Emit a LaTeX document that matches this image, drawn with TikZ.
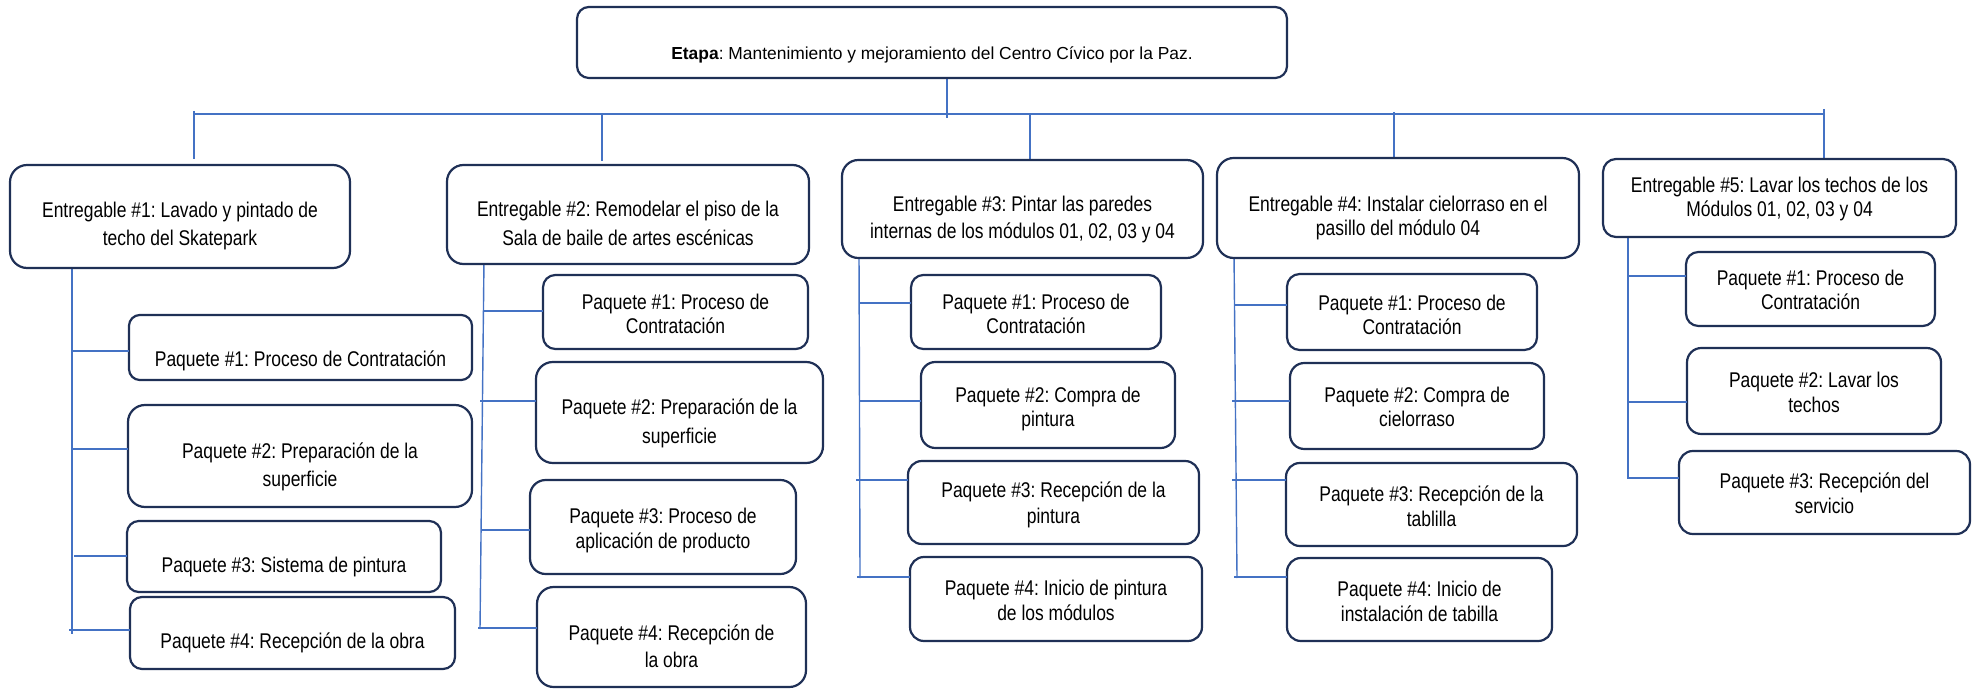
\documentclass[tikz,border=0pt]{standalone}
\usepackage{fontspec}
\setmainfont{Liberation Sans}
\newfontfamily\narrowf{Liberation Sans}[FakeStretch=0.82]
\frenchspacing
\definecolor{navy}{HTML}{1F3056}
\definecolor{lineblue}{HTML}{4472C4}
\newsavebox\myBxA
\newsavebox\myBxB
\newlength\myWd
\newcommand{\myTwoLines}[3]{%
  \sbox\myBxA{#2}\sbox\myBxB{#3}%
  \ifdim\wd\myBxA>\wd\myBxB \setlength\myWd{\wd\myBxA}\else\setlength\myWd{\wd\myBxB}\fi
  \vtop{\baselineskip=#1\lineskiplimit=-\maxdimen\lineskip=0pt
    \hbox to\myWd{\hss\usebox\myBxA\hss}\hbox to\myWd{\hss\usebox\myBxB\hss}}}
\newcommand{\myBox}[5]{%
  \pgfmathsetmacro\myBw{(#4-#2)*0.5}%
  \pgfmathsetmacro\myBh{(#5-#3)*0.5}%
  \pgfmathsetmacro\myBr{min(\myBw,\myBh)/6}%
  \node[boxst, minimum width=\myBw pt, minimum height=\myBh pt, rounded corners=\myBr pt] (#1) at ({(#2+#4)/2},{(#3+#5)/2}) {};}
\newcommand{\myTxt}[5]{\node[txtst] (#1t) at (#1.center |- 0,#2) {\myTwoLines{#3}{#4}{#5}};}
\newcommand{\myTxtOne}[3]{\node[txtst] (#1t) at (#1.center |- 0,#2) {#3};}
\tikzset{
  boxst/.style={draw=navy, line width=1.1pt, inner sep=0pt, outer sep=0pt, fill=white},
  txtst/.style={anchor=base, inner sep=0pt, font=\narrowf\fontsize{10.65pt}{12pt}\selectfont},
  conn/.style={draw=lineblue, line width=0.7pt},
}
\begin{document}
\frenchspacing
\begin{tikzpicture}[x=0.5pt,y=-0.5pt]
\useasboundingbox (0,0) rectangle (1979,689);
% connectors first
\coordinate (mL) at (194,114);
\coordinate (mR) at (1824,114);
\draw[conn] (mL) -- (mR);
\coordinate (d0a) at (947,78); \coordinate (d0b) at (947,118);
\draw[conn] (d0a) -- (d0b);
\coordinate (d1a) at (194,111); \coordinate (d1b) at (194,159);
\coordinate (d2a) at (602,114); \coordinate (d2b) at (602,161);
\coordinate (d3a) at (1030,114); \coordinate (d3b) at (1030,162);
\coordinate (d4a) at (1394,112); \coordinate (d4b) at (1394,159);
\coordinate (d5a) at (1824,109); \coordinate (d5b) at (1824,160);
\foreach \i in {1,...,5} {\draw[conn] (d\i a) -- (d\i b);}
% vertical spines
\coordinate (v1a) at (72,268);  \coordinate (v1b) at (72,634);
\coordinate (v2a) at (484,259); \coordinate (v2b) at (480,629);
\coordinate (v3a) at (859,254); \coordinate (v3b) at (860,578);
\coordinate (v4a) at (1234,253); \coordinate (v4b) at (1237,578);
\coordinate (v5a) at (1628,237); \coordinate (v5b) at (1628,479);
\foreach \i in {1,...,5} {\draw[conn] (v\i a) -- (v\i b);}
% boxes
\myBox{et}{577}{7}{1287}{78}
\myBox{e1}{10}{165}{350}{268}
\myBox{e2}{447}{165}{809}{264}
\myBox{e3}{842}{160}{1203}{258}
\myBox{e4}{1217}{158}{1579}{258}
\myBox{e5}{1603}{159}{1956}{237}
\myBox{p11}{129}{315}{472}{380}
\myBox{p12}{128}{405}{472}{507}
\myBox{p13}{127}{521}{441}{592}
\myBox{p14}{130}{597}{455}{669}
\myBox{p21}{543}{275}{808}{349}
\myBox{p22}{536}{362}{823}{463}
\myBox{p23}{530}{480}{796}{574}
\myBox{p24}{537}{587}{806}{687}
\myBox{p31}{911}{275}{1161}{349}
\myBox{p32}{921}{362}{1175}{448}
\myBox{p33}{908}{461}{1199}{544}
\myBox{p34}{910}{557}{1202}{641}
\myBox{p41}{1287}{274}{1537}{350}
\myBox{p42}{1290}{363}{1544}{449}
\myBox{p43}{1286}{463}{1577}{546}
\myBox{p44}{1287}{558}{1552}{641}
\myBox{p51}{1686}{252}{1935}{326}
\myBox{p52}{1687}{348}{1941}{434}
\myBox{p53}{1679}{451}{1970}{534}
% branch connectors
\coordinate (k11) at (73,351);  \coordinate (k12) at (72,449);
\coordinate (k13) at (74,556);  \coordinate (k14) at (69,630);
\coordinate (k21) at (484,311); \coordinate (k22) at (480,401);
\coordinate (k23) at (481,530); \coordinate (k24) at (478,628);
\coordinate (k31) at (860,303); \coordinate (k32) at (860,401);
\coordinate (k33) at (856,480); \coordinate (k34) at (857,577);
\coordinate (k41) at (1235,305); \coordinate (k42) at (1232,401);
\coordinate (k43) at (1232,480); \coordinate (k44) at (1234,577);
\coordinate (k51) at (1628,276); \coordinate (k52) at (1628,402);
\coordinate (k53) at (1628,478);
\foreach \a/\b in {k11/p11,k12/p12,k13/p13,k14/p14,k21/p21,k22/p22,k23/p23,k24/p24,k31/p31,k32/p32,k33/p33,k34/p34,k41/p41,k42/p42,k43/p43,k44/p44,k51/p51,k52/p52,k53/p53}
  {\draw[conn] (\a) -- (\a -| \b.west);}
% texts
\node[anchor=base, inner sep=0pt, font=\fontsize{8.7pt}{10pt}\selectfont] (ett) at (et.center |- 0,60) {\textbf{Etapa}: Mantenimiento y mejoramiento del Centro Cívico por la Paz.};
\myTxt{e1}{218}{14pt}{Entregable \#1: Lavado y pintado de}{techo del Skatepark}
\myTxt{e2}{217}{14.5pt}{Entregable \#2: Remodelar el piso de la}{Sala de baile de artes escénicas}
\myTxt{e3}{212}{13.5pt}{Entregable \#3: Pintar las paredes}{internas de los módulos 01, 02, 03 y 04}
\myTxt{e4}{212}{12pt}{Entregable \#4: Instalar cielorraso en el}{pasillo del módulo 04}
\myTxt{e5}{193}{12pt}{Entregable \#5: Lavar los techos de los}{Módulos 01, 02, 03 y 04}
\myTxtOne{p11}{366}{Paquete \#1: Proceso de Contratación}
\myTxt{p12}{458}{14pt}{Paquete \#2: Preparación de la}{superficie}
\myTxtOne{p13}{572}{Paquete \#3: Sistema de pintura}
\myTxtOne{p14}{648}{Paquete \#4: Recepción de la obra}
\myTxt{p21}{310}{12pt}{Paquete \#1: Proceso de}{Contratación}
\myTxt{p22}{415}{14pt}{Paquete \#2: Preparación de la}{superficie}
\myTxt{p23}{523}{12.5pt}{Paquete \#3: Proceso de}{aplicación de producto}
\myTxt{p24}{640}{13.5pt}{Paquete \#4: Recepción de}{la obra}
\myTxt{p31}{310}{12pt}{Paquete \#1: Proceso de}{Contratación}
\myTxt{p32}{402}{12pt}{Paquete \#2: Compra de}{pintura}
\myTxt{p33}{497}{13pt}{Paquete \#3: Recepción de la}{pintura}
\myTxt{p34}{595}{12.5pt}{Paquete \#4: Inicio de pintura}{de los módulos}
\myTxt{p41}{311}{12pt}{Paquete \#1: Proceso de}{Contratación}
\myTxt{p42}{402}{12pt}{Paquete \#2: Compra de}{cielorraso}
\myTxt{p43}{501}{12.5pt}{Paquete \#3: Recepción de la}{tablilla}
\myTxt{p44}{596}{12.5pt}{Paquete \#4: Inicio de}{instalación de tabilla}
\myTxt{p51}{286}{12pt}{Paquete \#1: Proceso de}{Contratación}
\myTxt{p52}{387}{12.5pt}{Paquete \#2: Lavar los}{techos}
\myTxt{p53}{488}{12.5pt}{Paquete \#3: Recepción del}{servicio}
\end{tikzpicture}
\end{document}
